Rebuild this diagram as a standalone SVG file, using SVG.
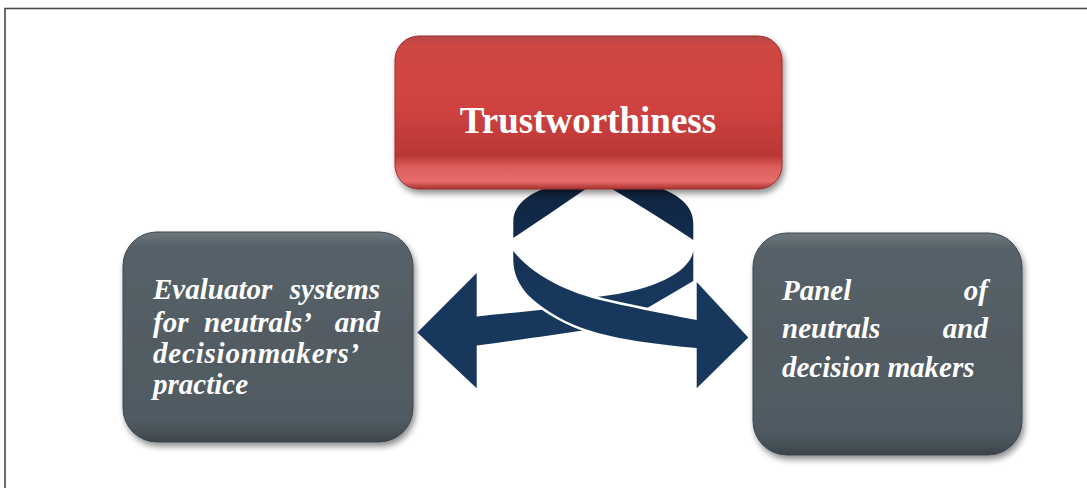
<svg xmlns="http://www.w3.org/2000/svg" width="1087" height="488" viewBox="0 0 1087 488">
<style>
.lbl{font-family:"Liberation Serif","Times New Roman",serif;font-weight:bold;font-style:italic;font-size:29px;fill:#ffffff}
.ttl{font-family:"Liberation Serif","Times New Roman",serif;font-weight:bold;font-size:37px;fill:#ffffff}
.navy{fill:url(#navyG)}
</style>
<defs>
<linearGradient id="redG" x1="0" y1="0" x2="0" y2="1">
<stop offset="0" stop-color="#b34a47"/>
<stop offset="0.06" stop-color="#cf4643"/>
<stop offset="0.45" stop-color="#d04341"/>
<stop offset="0.78" stop-color="#b93735"/>
<stop offset="0.86" stop-color="#dc605d"/>
<stop offset="0.95" stop-color="#e56d6a"/>
<stop offset="1" stop-color="#a8302e"/>
</linearGradient>
<linearGradient id="grayG" x1="0" y1="0" x2="0" y2="1">
<stop offset="0" stop-color="#6f787f"/>
<stop offset="0.07" stop-color="#566168"/>
<stop offset="0.5" stop-color="#525c64"/>
<stop offset="0.9" stop-color="#505a62"/>
<stop offset="0.97" stop-color="#434c53"/>
<stop offset="1" stop-color="#3a4249"/>
</linearGradient>
<linearGradient id="navyG" gradientUnits="userSpaceOnUse" x1="0" y1="190" x2="0" y2="290">
<stop offset="0" stop-color="#0f2440"/>
<stop offset="1" stop-color="#18375c"/>
</linearGradient>
<filter id="sh" x="-10%" y="-10%" width="125%" height="130%">
<feGaussianBlur in="SourceAlpha" stdDeviation="3"/>
<feOffset dx="2" dy="4" result="o"/>
<feComponentTransfer><feFuncA type="linear" slope="0.45"/></feComponentTransfer>
<feMerge><feMergeNode/><feMergeNode in="SourceGraphic"/></feMerge>
</filter>
</defs>
<rect width="1087" height="488" fill="#ffffff"/>
<rect x="5" y="8.5" width="1100" height="500" fill="none" stroke="#4a4a4a" stroke-width="1.6"/>

<g id="node-evaluator">
<rect x="123" y="232" width="290" height="210" rx="34" fill="url(#grayG)" stroke="#3d464d" stroke-width="1" filter="url(#sh)"/>
<text class="lbl"><tspan x="153" y="299">Evaluator</tspan><tspan x="380" y="299" text-anchor="end">systems</tspan></text>
<text class="lbl"><tspan x="153" y="331.5">for</tspan><tspan x="204" y="331.5">neutrals’</tspan><tspan x="380" y="331.5" text-anchor="end">and</tspan></text>
<text class="lbl" x="153" y="363" letter-spacing="0.8">decisionmakers’</text>
<text class="lbl" x="153" y="394">practice</text>
</g>

<g id="node-panel">
<rect x="753" y="233" width="269" height="222" rx="34" fill="url(#grayG)" stroke="#3d464d" stroke-width="1" filter="url(#sh)"/>
<text class="lbl"><tspan x="782" y="300">Panel</tspan><tspan x="988" y="300" text-anchor="end">of</tspan></text>
<text class="lbl"><tspan x="782" y="338">neutrals</tspan><tspan x="988" y="338" text-anchor="end">and</tspan></text>
<text class="lbl" x="782" y="376.5">decision makers</text>
</g>

<g id="connectors">
<!-- upper ring (behind the title box) -->
<path class="navy" d="M513.3,238 L513.3,222 C513.3,203 532,189 565,183 L640,183 C674,189 693.3,204 693.3,223 L693.3,240 Q653,213 607,186 L590,186 Q551,213 513.3,238 Z"/>
<!-- back part of the ribbon -->
<path class="navy" d="M693.3,251 C690,270 660,290 596.7,297 L600,315 L620,324 L693.3,281 Z"/>
<!-- left arrow with shaft (passes behind the front band) -->
<path class="navy" d="M417.3,332.5 L476.7,273 L476.7,316.5 C505,313.5 560,308 600,304 L600,328 C560,334 510,341 476.7,345.5 L476.7,388.3 Z"/>
<!-- front band ending in the right arrow -->
<path class="navy" stroke="#ffffff" stroke-width="5" stroke-linejoin="miter" paint-order="stroke" d="M513.3,251 C530,272 560,290 600,300 C625,306 660,313 696.7,320 L696.7,282 L748.3,337.5 L696.7,388.3 L696.7,348 C650,344 610,338 582,328 C560,320 540,307 528,295 C518,284 513.3,272 513.3,260 Z"/>
</g>

<g id="node-trust">
<rect x="395" y="36" width="387" height="153" rx="24" fill="url(#redG)" stroke="#9a2c2a" stroke-width="1" filter="url(#sh)"/>
<text class="ttl" x="588" y="133" text-anchor="middle">Trustworthiness</text>
</g>
</svg>
